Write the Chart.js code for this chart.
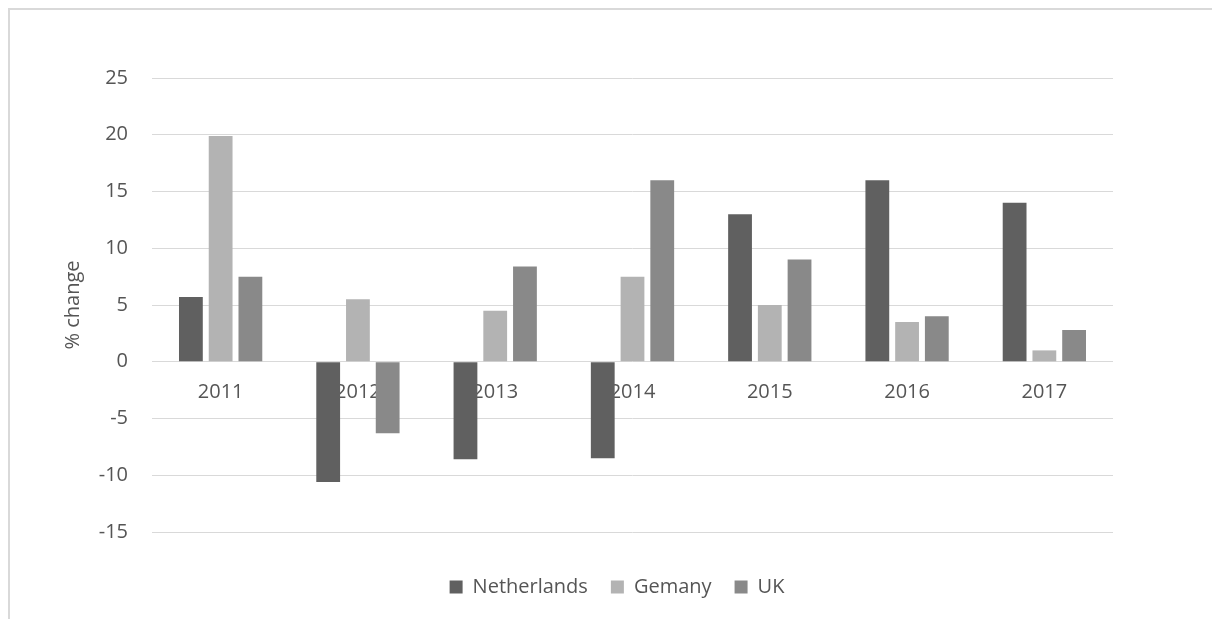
<!DOCTYPE html>
<html>
<head>
<meta charset="utf-8">
<script src="https://cdn.jsdelivr.net/npm/chart.js@4/dist/chart.umd.min.js"></script>
<style>
  html, body { margin: 0; padding: 0; background: #ffffff; overflow: hidden; }
  #wrap { position: relative; width: 1212px; height: 619px; overflow: hidden; }
  #frame { position: absolute; left: 8px; top: 8px; width: 1400px; height: 800px; border: 2px solid #d9d9d9; box-sizing: border-box; }
  canvas { position: absolute; left: 0; top: 0; }
</style>
</head>
<body>
<div id="wrap">
  <div id="frame"></div>
  <canvas id="c" width="1212" height="619"></canvas>
</div>
<script>
const years = ['2011', '2012', '2013', '2014', '2015', '2016', '2017'];
const netherlands = [5.7, -10.6, -8.6, -8.5, 13, 16, 14];
const germany = [19.9, 5.5, 4.5, 7.5, 5, 3.5, 1];
const uk = [7.5, -6.3, 8.4, 16, 9, 4, 2.8];
const seriesNames = ['Netherlands', 'Gemany', 'UK'];
const yTitle = '% change';

const textColor = '#555555';
const gridColor = '#d9d9d9';
const fontFamily = '"Open Sans", "Liberation Sans", sans-serif';

new Chart(document.getElementById('c'), {
  type: 'bar',
  data: {
    labels: years,
    datasets: [
      { label: seriesNames[0], data: netherlands, backgroundColor: '#606060', xAxisID: 'x', yAxisID: 'y' },
      { label: seriesNames[1], data: germany, backgroundColor: '#b3b3b3', xAxisID: 'x', yAxisID: 'y' },
      { label: seriesNames[2], data: uk, backgroundColor: '#898989', xAxisID: 'x', yAxisID: 'y' }
    ]
  },
  options: {
    responsive: false,
    animation: false,
    devicePixelRatio: 1,
    datasets: { bar: { categoryPercentage: 0.65, barPercentage: 0.8 } },
    layout: { padding: { top: 78, right: 0, bottom: 12, left: 22 } },
    plugins: {
      tooltip: { enabled: false },
      legend: {
        position: 'bottom',
        labels: {
          color: textColor,
          font: { family: fontFamily, size: 20 },
          boxWidth: 13,
          boxHeight: 13,
          padding: 23
        }
      }
    },
    scales: {
      x: {
        position: { y: 0 },
        grid: { display: false, drawTicks: false },
        border: { display: false },
        ticks: { color: textColor, font: { family: fontFamily, size: 20 }, padding: 19 }
      },
      y: {
        min: -15,
        max: 25,
        grid: { color: gridColor, lineWidth: 1, drawTicks: false },
        border: { display: false },
        ticks: { stepSize: 5, color: textColor, font: { family: fontFamily, size: 20 }, padding: 24 },
        title: { display: true, text: yTitle, color: textColor, font: { family: fontFamily, size: 20 }, padding: { top: 39, bottom: 0 } },
        afterFit: (s) => { s.width = 130; }
      },
      spacer: {
        type: 'category',
        position: 'bottom',
        display: true,
        grid: { display: false, drawTicks: false },
        border: { display: false },
        ticks: { display: false },
        afterFit: (s) => { s.height = 22; }
      },
      rightSpacer: {
        type: 'linear',
        position: 'right',
        display: true,
        grid: { display: false, drawTicks: false },
        border: { display: false },
        ticks: { display: false },
        afterFit: (s) => { s.width = 99; }
      }
    }
  }
});
</script>
</body>
</html>
